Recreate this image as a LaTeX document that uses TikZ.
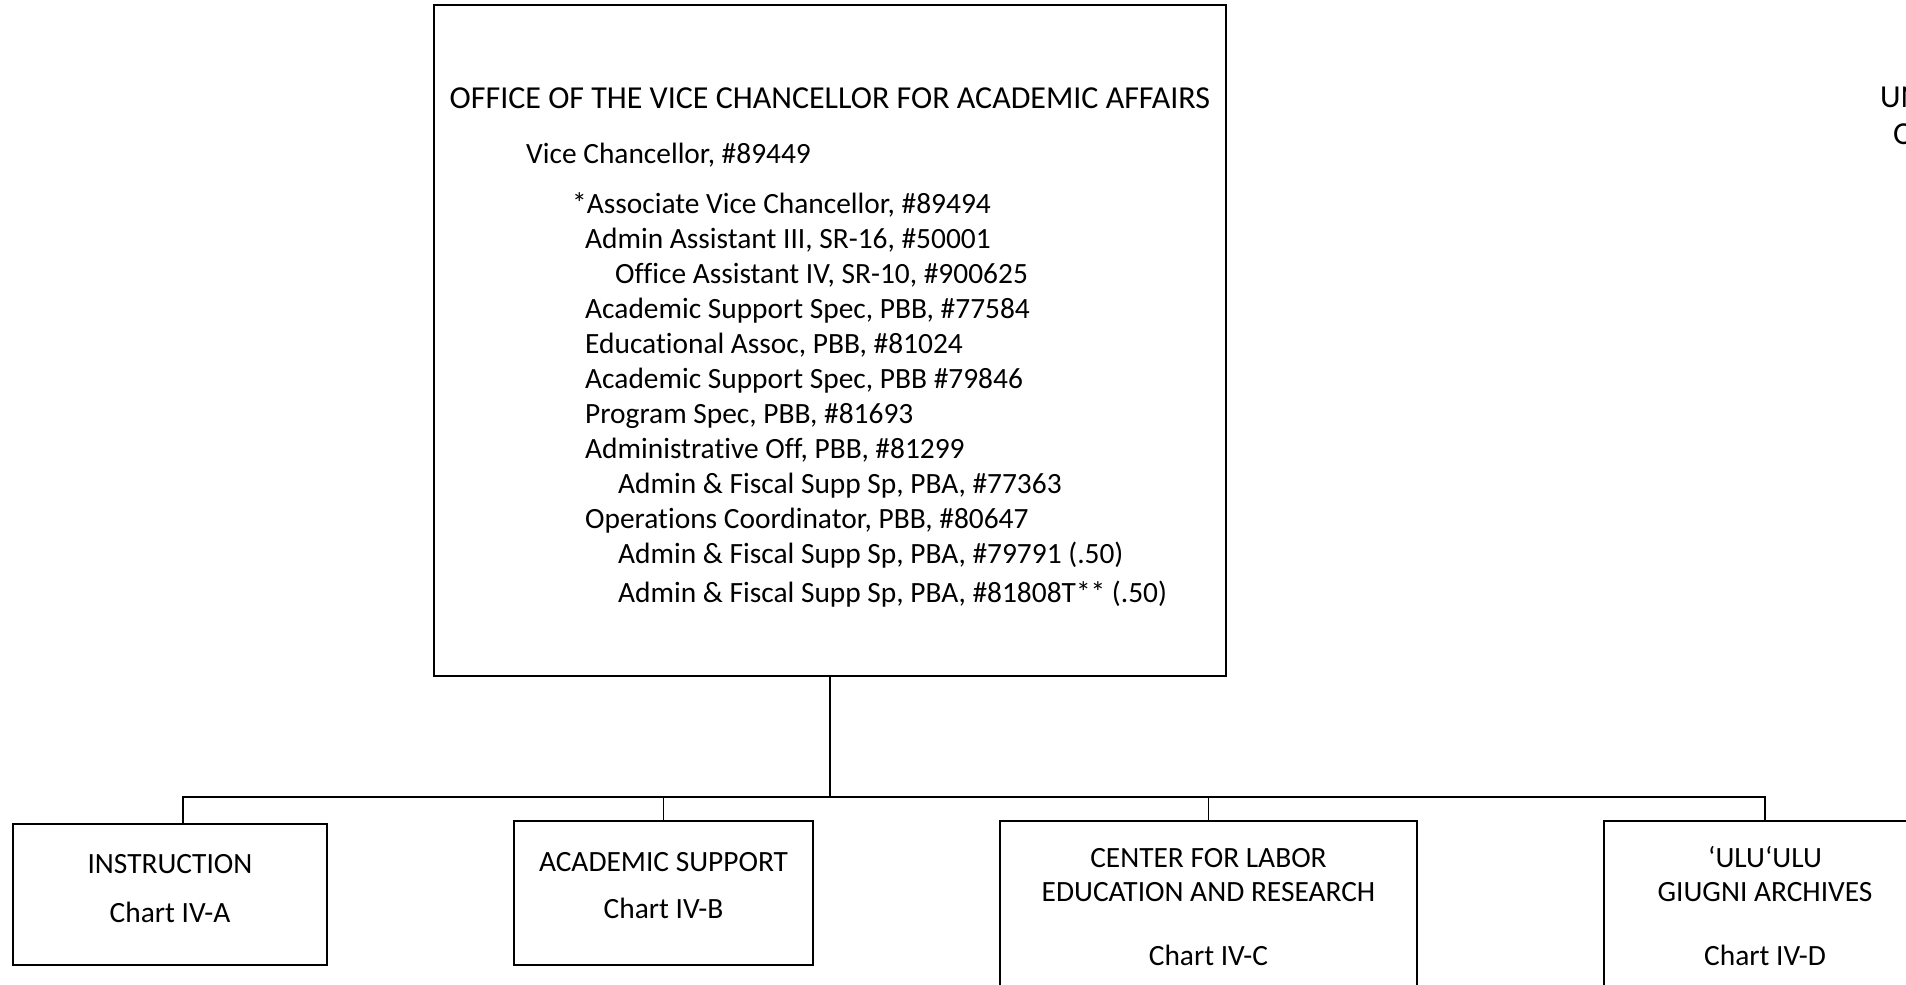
\documentclass[tikz,border=0pt]{standalone}
\usepackage{fontspec}
\setmainfont{Carlito}[Ligatures={NoCommon}]
\begin{document}
\begin{tikzpicture}[x=1pt,y=-1pt,
  box/.style={draw, line width=1.5pt, rectangle, inner sep=0pt},
  txt/.style={font=\fontsize{29.4}{35}\selectfont, inner sep=0pt},
  ttl/.style={font=\fontsize{32}{38}\selectfont, inner sep=0pt},
  conn/.style={line width=1.5pt}]
\useasboundingbox (0,0) rectangle (1906,985);
\clip (0,0) rectangle (1906,985);
\fill[white] (0,0) rectangle (1906,985);
% main box
\node[box, minimum width=792pt, minimum height=671pt] (main) at (830,340.5) {};
\node[ttl, anchor=base] (title) at (830,108) {OFFICE OF THE VICE CHANCELLOR FOR ACADEMIC AFFAIRS};
\node[txt, anchor=base west] (l1) at (526,163) {Vice Chancellor, \#89449};
\node[txt, anchor=base west] (l2) at (572,213) {*Associate Vice Chancellor, \#89494};
\node[txt, anchor=base west] (l3) at (585,248) {Admin Assistant III, SR-16, \#50001};
\node[txt, anchor=base west] (l4) at (615,283) {Office Assistant IV, SR-10, \#900625};
\node[txt, anchor=base west] (l5) at (585,318) {Academic Support Spec, PBB, \#77584};
\node[txt, anchor=base west] (l6) at (585,353) {Educational Assoc, PBB, \#81024};
\node[txt, anchor=base west] (l7) at (585,388) {Academic Support Spec, PBB \#79846};
\node[txt, anchor=base west] (l8) at (585,423) {Program Spec, PBB, \#81693};
\node[txt, anchor=base west] (l9) at (585,458) {Administrative Off, PBB, \#81299};
\node[txt, anchor=base west] (l10) at (618,493) {Admin \& Fiscal Supp Sp, PBA, \#77363};
\node[txt, anchor=base west] (l11) at (585,528) {Operations Coordinator, PBB, \#80647};
\node[txt, anchor=base west] (l12) at (618,563) {Admin \& Fiscal Supp Sp, PBA, \#79791 (.50)};
\node[txt, anchor=base west] (l13) at (618,602) {Admin \& Fiscal Supp Sp, PBA, \#81808T** (.50)};
% top right (cut off at the edge, as in the reference)
\node[ttl, anchor=base west] (uh1) at (1880,107) {UNIVERSITY OF HAWAI\char"60 I};
\node[ttl, anchor=base west] (uh2) at (1893,144) {ORGANIZATION CHART};
% child boxes
\node[box, minimum width=314pt, minimum height=141pt] (instr) at (170,894.5) {};
\node[box, minimum width=299pt, minimum height=144pt] (acad) at (663.5,893) {};
\node[box, minimum width=417pt, minimum height=179pt] (ctr) at (1208.5,910.5) {};
\node[box, minimum width=322pt, minimum height=179pt] (ulu) at (1765,910.5) {};
% child texts
\node[txt, anchor=base] (t1a) at (170,873) {INSTRUCTION};
\node[txt, anchor=base] (t1b) at (170,922) {Chart IV-A};
\node[txt, anchor=base] (t2a) at (663.5,871) {ACADEMIC SUPPORT};
\node[txt, anchor=base] (t2b) at (663.5,918) {Chart IV-B};
\node[txt, anchor=base] (t3a) at (1208.5,867) {CENTER FOR LABOR};
\node[txt, anchor=base] (t3b) at (1208.5,901) {EDUCATION AND RESEARCH};
\node[txt, anchor=base] (t3c) at (1208.5,965) {Chart IV-C};
\node[txt, anchor=base] (t4a) at (1765,867) {\char"60 ULU\char"60 ULU};
\node[txt, anchor=base] (t4b) at (1765,901) {GIUGNI ARCHIVES};
\node[txt, anchor=base] (t4c) at (1765,965) {Chart IV-D};
% connectors
\coordinate (bus) at (830,797);
\draw[conn] (main.south) -- (bus);
\draw[conn] ([xshift=13pt]instr.north) |- (bus) -| (ulu.north);
\draw[conn] (acad.north) -- (acad.north |- bus);
\draw[conn] (ctr.north) -- (ctr.north |- bus);
\end{tikzpicture}
\end{document}
